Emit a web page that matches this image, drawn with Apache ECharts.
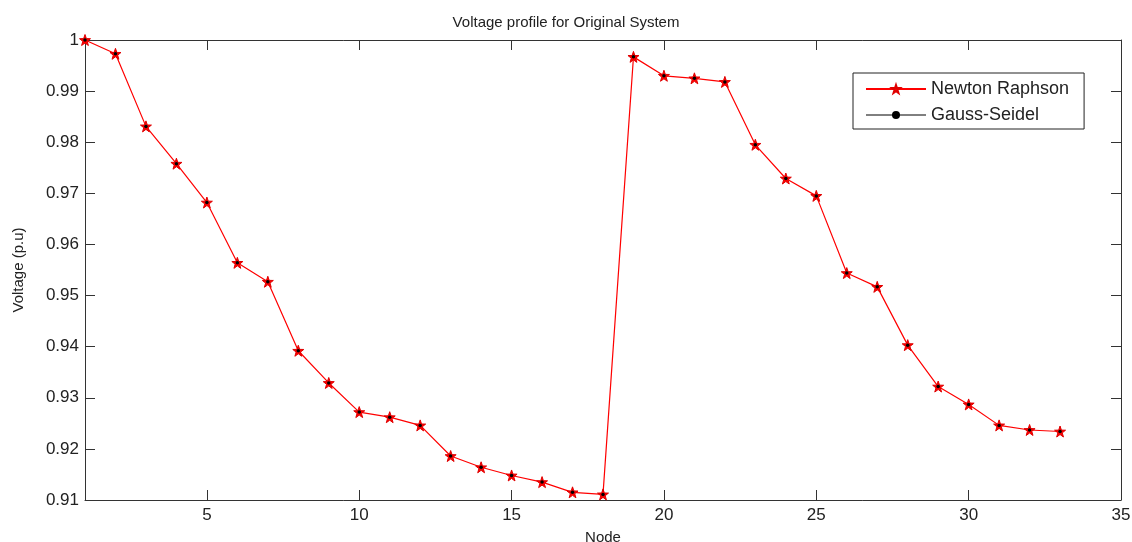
<!DOCTYPE html>
<html>
<head>
<meta charset="utf-8">
<script src="https://cdn.jsdelivr.net/npm/echarts@6/dist/echarts.min.js"></script>
<style>
html, body { margin: 0; padding: 0; background: #fff; }
#main { width: 1132px; height: 542px; }
</style>
</head>
<body>
<div id="main"></div>
<script>
// node numbers and bus voltages (p.u.)
var nodes = [1, 2, 3, 4, 5, 6, 7, 8, 9, 10, 11, 12, 13, 14, 15, 16, 17,
    18, 19, 20, 21, 22, 23, 24, 25, 26, 27, 28, 29, 30, 31, 32, 33];
var newtonRaphson = [1.0, 0.9973, 0.9831, 0.9758, 0.9682, 0.9564, 0.9527, 0.9392, 0.9329,
    0.9272, 0.9262, 0.9246, 0.9186, 0.9164, 0.9148, 0.9135, 0.9115, 0.9111,
    0.9967, 0.9930, 0.9925, 0.9918, 0.9795, 0.9729, 0.9695, 0.9544, 0.9517,
    0.9403, 0.9322, 0.9287, 0.9246, 0.9237, 0.9234];
var gaussSeidel = [1.0, 0.9973, 0.9831, 0.9758, 0.9682, 0.9564, 0.9527, 0.9392, 0.9329,
    0.9272, 0.9262, 0.9246, 0.9186, 0.9164, 0.9148, 0.9135, 0.9115, 0.9111,
    0.9967, 0.9930, 0.9925, 0.9918, 0.9795, 0.9729, 0.9695, 0.9544, 0.9517,
    0.9403, 0.9322, 0.9287, 0.9246, 0.9237, 0.9234];
var xTicks = [5, 10, 15, 20, 25, 30, 35];

function pairs(xs, ys) {
    return xs.map(function (x, i) { return [x, ys[i]]; });
}

var txt = '#222';
var font = 'Liberation Sans, Arial, sans-serif';
function tick(custom) {
    var t = { show: true, inside: true, length: 10, lineStyle: { color: '#333', width: 1 } };
    if (custom) t.customValues = custom;
    return t;
}
function line() {
    return { show: true, onZero: false, lineStyle: { color: '#333', width: 1 } };
}

var myChart = echarts.init(document.getElementById('main'));
var option = {
    backgroundColor: '#fff',
    animation: false,
    title: {
        text: 'Voltage profile for Original System',
        left: 'center',
        top: 10,
        textStyle: { color: txt, fontSize: 15, fontWeight: 'normal', fontFamily: font }
    },
    grid: {
        left: 85, right: 11, top: 40, bottom: 42,
        outerBoundsMode: 'none'
    },
    legend: {
        orient: 'vertical',
        left: 853,
        top: 73,
        padding: [7, 15, 5, 12],
        itemGap: 8,
        itemWidth: 60,
        itemHeight: 10,
        borderColor: '#222',
        borderWidth: 1,
        borderRadius: 0,
        backgroundColor: '#fff',
        textStyle: { color: txt, fontSize: 18, fontFamily: font },
        data: [
            { name: 'Newton Raphson' },
            { name: 'Gauss-Seidel', lineStyle: { opacity: 1, color: '#000', width: 1 } }
        ]
    },
    xAxis: [{
        type: 'value',
        min: 1,
        max: 35,
        name: 'Node',
        nameLocation: 'middle',
        nameGap: 30,
        nameTextStyle: { color: txt, fontSize: 15, fontFamily: font },
        axisLine: line(),
        axisTick: tick(xTicks),
        axisLabel: { customValues: xTicks, color: txt, fontSize: 17, fontFamily: font, margin: 7 },
        splitLine: { show: false }
    }, {
        type: 'value',
        position: 'top',
        min: 1,
        max: 35,
        axisLine: line(),
        axisTick: tick(xTicks),
        axisLabel: { show: false },
        splitLine: { show: false }
    }],
    yAxis: [{
        type: 'value',
        min: 0.91,
        max: 1,
        interval: 0.01,
        name: 'Voltage (p.u)',
        nameLocation: 'middle',
        nameGap: 59,
        nameTextStyle: { color: txt, fontSize: 15, fontFamily: font },
        axisLine: line(),
        axisTick: tick(),
        axisLabel: {
            color: txt, fontSize: 17, fontFamily: font, margin: 6,
            formatter: function (v) { return String(+v.toFixed(2)); }
        },
        splitLine: { show: false }
    }, {
        type: 'value',
        position: 'right',
        min: 0.91,
        max: 1,
        interval: 0.01,
        axisLine: line(),
        axisTick: tick(),
        axisLabel: { show: false },
        splitLine: { show: false }
    }],
    series: [{
        name: 'Newton Raphson',
        type: 'line',
        z: 3,
        data: pairs(nodes, newtonRaphson),
        lineStyle: { color: '#ff0000', width: 1.2 },
        itemStyle: { color: '#ff0000', borderColor: '#e00000', borderWidth: 1 },
        symbol: 'path://M0,-10 L2.35,-3.24 L9.51,-3.09 L3.8,1.24 L5.88,8.09 L0,4 L-5.88,8.09 L-3.8,1.24 L-9.51,-3.09 L-2.35,-3.24 Z',
        symbolSize: 11,
        showAllSymbol: true
    }, {
        name: 'Gauss-Seidel',
        type: 'line',
        z: 4,
        data: pairs(nodes, gaussSeidel),
        lineStyle: { color: '#000', width: 1, opacity: 0 },
        itemStyle: { color: '#000' },
        symbol: 'circle',
        symbolSize: 3.5,
        showAllSymbol: true
    }]
};
myChart.setOption(option);
</script>
</body>
</html>
